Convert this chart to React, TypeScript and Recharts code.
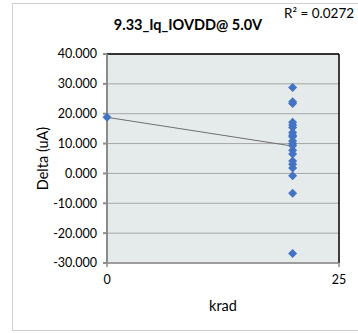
import {
  ComposedChart,
  Scatter,
  XAxis,
  YAxis,
  CartesianGrid,
  ReferenceLine,
} from "recharts";

// krad dose levels and measured deltas (uA)
const doseBefore = [0];
const deltaBefore = [18.8];
const doseAfter = 20;
const deltaAfter = [
  28.8, 24.0, 23.4, 17.1, 16.2, 15.4, 13.7, 12.8, 12.3, 10.9,
  9.9, 9.3, 7.8, 6.5, 4.2, 3.1, 1.8, -0.8, -6.6, -26.8,
];

const xTicks = [0, 25];
const yTicks = [-30, -20, -10, 0, 10, 20, 30, 40];
const titleText = "9.33_Iq_IOVDD@ 5.0V";
const rSquaredText = "R² = 0.0272";

const points = [
  ...doseBefore.map((x, i) => ({ x, y: deltaBefore[i] })),
  ...deltaAfter.map((y) => ({ x: doseAfter, y })),
];

// least squares trendline over the data range
function fitLine(pts: { x: number; y: number }[]) {
  const n = pts.length;
  const mx = pts.reduce((s, p) => s + p.x, 0) / n;
  const my = pts.reduce((s, p) => s + p.y, 0) / n;
  let sxy = 0;
  let sxx = 0;
  pts.forEach((p) => {
    sxy += (p.x - mx) * (p.y - my);
    sxx += (p.x - mx) * (p.x - mx);
  });
  const slope = sxy / sxx;
  return { slope, intercept: my - slope * mx };
}

const fit = fitLine(points);
const xMin = Math.min(...points.map((p) => p.x));
const xMax = Math.max(...points.map((p) => p.x));
const trend = [
  { x: xMin, y: fit.intercept + fit.slope * xMin },
  { x: xMax, y: fit.intercept + fit.slope * xMax },
];

const FONT = "Lato, 'Open Sans', sans-serif";

function Diamond(props: any) {
  const { cx, cy } = props;
  const r = 4.5;
  return (
    <polygon
      points={`${cx},${cy - r} ${cx + r},${cy} ${cx},${cy + r} ${cx - r},${cy}`}
      fill="#4472C4"
    />
  );
}

export default function App() {
  return (
    <div style={pageStyle}>
      <div style={frameStyle} />
      <div style={titleStyle}>{titleText}</div>
      <div style={r2Style}>{rSquaredText}</div>
      <ComposedChart
        width={358}
        height={333}
        margin={{ top: 54, right: 19, bottom: 20, left: 12 }}
        style={{ position: "absolute", left: 0, top: 0 }}
      >
        <CartesianGrid
          vertical={false}
          stroke="#a6a6a6"
          fill="#e5eaea"
          fillOpacity={1}
        />
        <XAxis
          type="number"
          dataKey="x"
          domain={[0, 25]}
          ticks={xTicks}
          height={50}
          stroke="#8c8c8c"
          strokeWidth={1.5}
          tickSize={4}
          tickMargin={8}
          tick={{ fill: "#000", fontSize: 12.5, fontFamily: FONT }}
          label={{
            value: "krad",
            position: "insideBottom",
            offset: 2,
            fill: "#000",
            fontSize: 14.5,
            fontFamily: FONT,
          }}
        />
        <YAxis
          type="number"
          dataKey="y"
          domain={[-30, 40]}
          ticks={yTicks}
          width={95}
          stroke="#8c8c8c"
          strokeWidth={2}
          tickSize={4}
          tickMargin={6}
          tickFormatter={(v: number) => v.toFixed(3)}
          tick={{ fill: "#000", fontSize: 12.5, fontFamily: FONT }}
          label={{
            value: "Delta (uA)",
            angle: -90,
            position: "center",
            dx: -17,
            fill: "#000",
            fontSize: 14.5,
            fontFamily: FONT,
          }}
        />
        <ReferenceLine y={40} stroke="#000" strokeWidth={1.5} />
        <ReferenceLine x={25} stroke="#000" strokeWidth={1.5} />
        <ReferenceLine
          segment={trend}
          stroke="#6f6f6f"
          strokeWidth={1}
          ifOverflow="visible"
        />
        <Scatter
          data={points}
          dataKey="y"
          shape={<Diamond />}
          isAnimationActive={false}
        />
      </ComposedChart>
    </div>
  );
}

const pageStyle: React.CSSProperties = {
  position: "absolute",
  left: 0,
  top: 0,
  width: 358,
  height: 333,
  overflow: "hidden",
  background: "#fff",
};

const frameStyle: React.CSSProperties = {
  position: "absolute",
  left: 12,
  top: 3,
  width: 360,
  height: 326,
  border: "1px solid #d0d0d0",
};

const titleStyle: React.CSSProperties = {
  position: "absolute",
  left: 88,
  top: 16,
  width: 200,
  textAlign: "center",
  fontFamily: FONT,
  fontWeight: 700,
  fontSize: 14.5,
  color: "#000",
  zIndex: 1,
};

const r2Style: React.CSSProperties = {
  position: "absolute",
  left: 284,
  top: 5,
  fontFamily: FONT,
  fontSize: 13.5,
  color: "#000",
  whiteSpace: "nowrap",
  zIndex: 1,
};
